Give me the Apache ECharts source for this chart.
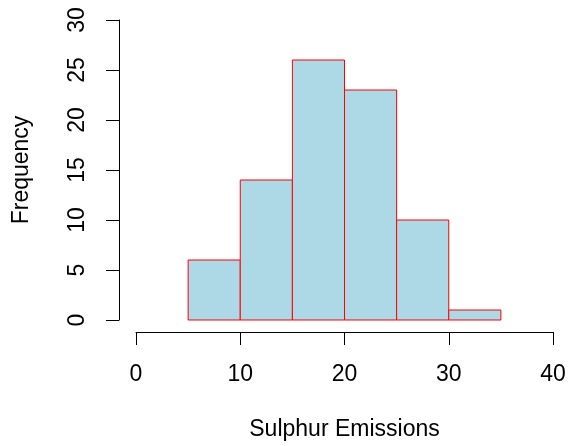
<!DOCTYPE html>
<html>
<head>
<meta charset="utf-8">
<script src="https://cdn.jsdelivr.net/npm/echarts@6/dist/echarts.min.js"></script>
<style>
    html, body { margin: 0; padding: 0; background: #fff; }
    #chart { width: 571px; height: 446px; }
</style>
</head>
<body>
<div id="chart"></div>
<script>
var binStarts = [5, 10, 15, 20, 25, 30];
var binEnds = [10, 15, 20, 25, 30, 35];
var freq = [6, 14, 26, 23, 10, 1];
var xTicks = [0, 10, 20, 30, 40];
var yTicks = [0, 5, 10, 15, 20, 25, 30];

var fontName = 'Liberation Sans, Arial, Helvetica, sans-serif';

var histData = [];
for (var i = 0; i < freq.length; i++) {
    histData.push([binStarts[i], binEnds[i], freq[i]]);
}

var myChart = echarts.init(document.getElementById('chart'));
var option = {
    animation: false,
    grid: {
        left: 136,
        right: 18,
        top: 20,
        bottom: 124
    },
    xAxis: {
        type: 'value',
        min: xTicks[0],
        max: xTicks[xTicks.length - 1],
        interval: 10,
        offset: 12,
        name: 'Sulphur Emissions',
        nameLocation: 'middle',
        nameGap: 86,
        nameTextStyle: { color: '#000', fontSize: 23, fontFamily: fontName },
        axisLine: { show: true, onZero: false, lineStyle: { color: '#000', width: 1 } },
        axisTick: { show: true, length: 13, lineStyle: { color: '#000' } },
        axisLabel: { color: '#000', fontSize: 23, fontFamily: fontName, margin: 31 },
        splitLine: { show: false }
    },
    yAxis: {
        type: 'value',
        min: yTicks[0],
        max: yTicks[yTicks.length - 1],
        interval: 5,
        offset: 17,
        name: 'Frequency',
        nameLocation: 'middle',
        nameRotate: 90,
        nameGap: 86,
        nameTextStyle: { color: '#000', fontSize: 23, fontFamily: fontName },
        axisLine: { show: true, onZero: false, lineStyle: { color: '#000', width: 1 } },
        axisTick: { show: true, length: 13, lineStyle: { color: '#000' } },
        axisLabel: { color: '#000', fontSize: 23, fontFamily: fontName, rotate: 90, margin: 30 },
        splitLine: { show: false }
    },
    series: [{
        type: 'custom',
        data: histData,
        encode: { x: [0, 1], y: 2 },
        renderItem: function (params, api) {
            var p0 = api.coord([api.value(0), 0]);
            var p1 = api.coord([api.value(1), api.value(2)]);
            return {
                type: 'rect',
                shape: {
                    x: p0[0],
                    y: p1[1],
                    width: p1[0] - p0[0],
                    height: p0[1] - p1[1]
                },
                style: {
                    fill: '#ADD8E6',
                    stroke: '#FF0000',
                    lineWidth: 1
                }
            };
        }
    }]
};
myChart.setOption(option);
</script>
</body>
</html>
